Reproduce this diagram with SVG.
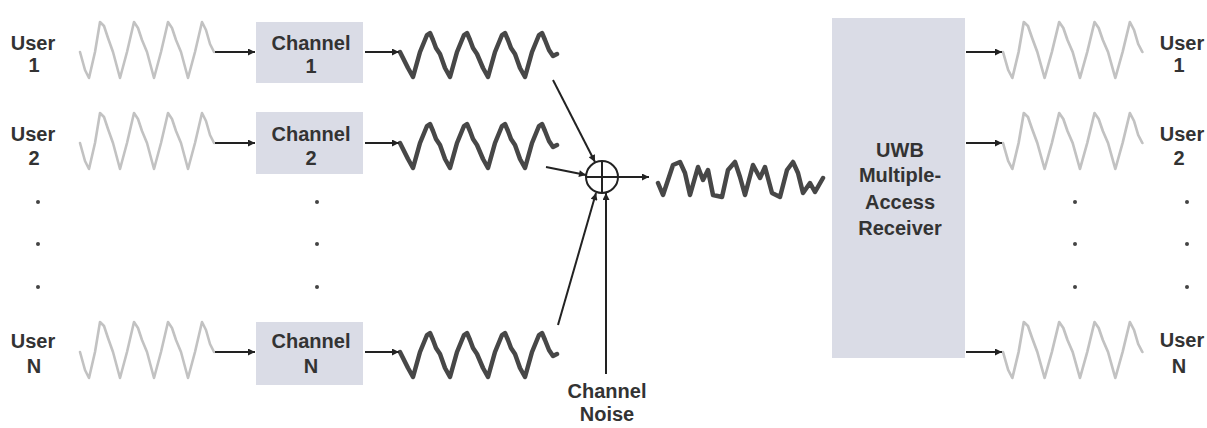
<svg xmlns="http://www.w3.org/2000/svg" width="1207" height="428" viewBox="0 0 1207 428">
<style>
.lbl{font-family:"Liberation Sans",Arial,sans-serif;font-size:20px;font-weight:bold;fill:#333;text-anchor:middle}
.box{fill:#dadce6}
.wl{fill:none;stroke:#c2c2c2;stroke-width:2.6;stroke-linejoin:round;stroke-linecap:round}
.wd{fill:none;stroke:#474747;stroke-width:4.5;stroke-linejoin:round;stroke-linecap:round}
.conn{stroke:#222;stroke-width:2;fill:none}
.dot{fill:#444}
</style>
<defs>
<marker id="ah" viewBox="0 0 10 10" refX="10" refY="5" markerWidth="9" markerHeight="7" markerUnits="userSpaceOnUse" orient="auto"><path d="M0,0 L10,5 L0,10 z" fill="#222"/></marker>
<path id="uw" class="wl" d="M0,0 L5,18 L9,26 L15,0 L20,-30 L24,-26 L28,-14 L33,0 L40,26 L47,0 L54,-30 L58,-24 L62,-12 L67,0 L74,26 L81,0 L88,-30 L92,-24 L96,-12 L101,0 L108,26 L115,0 L122,-30 L126,-22 L130,-8 L134,0"/>
<path id="cw" class="wd" d="M0,0 L8,16 L13,25 L20,0 L27,-17 L30,-19 L33,-12 L36,-4 L40,2 L45,16 L50,25 L57,0 L64,-17 L67,-19 L70,-12 L73,-4 L77,2 L83,16 L88,25 L95,0 L102,-17 L105,-19 L108,-12 L111,-4 L115,2 L120,16 L125,25 L132,0 L139,-17 L142,-19 L145,-12 L149,-2 L153,4 L157,2"/>
</defs>

<g id="user1-in">
<text class="lbl" x="33" y="50">User</text><text class="lbl" x="34" y="72">1</text>
<use href="#uw" transform="translate(80,52)"/>
</g>
<g id="user2-in">
<text class="lbl" x="33" y="141">User</text><text class="lbl" x="34" y="165">2</text>
<use href="#uw" transform="translate(80,143)"/>
</g>
<g id="userN-in">
<text class="lbl" x="33" y="348">User</text><text class="lbl" x="34" y="373">N</text>
<use href="#uw" transform="translate(80,352)"/>
</g>
<g id="dots-left">
<circle class="dot" cx="38" cy="202" r="2"/><circle class="dot" cx="38" cy="244" r="2"/><circle class="dot" cx="38" cy="287" r="2"/>
<circle class="dot" cx="317" cy="202" r="2"/><circle class="dot" cx="317" cy="244" r="2"/><circle class="dot" cx="317" cy="287" r="2"/>
</g>

<g id="channel1">
<rect class="box" x="256" y="22" width="107" height="61"/>
<text class="lbl" x="311" y="50">Channel</text><text class="lbl" x="311" y="73">1</text>
</g>
<g id="channel2">
<rect class="box" x="256" y="112" width="107" height="62"/>
<text class="lbl" x="311" y="141">Channel</text><text class="lbl" x="311" y="165">2</text>
</g>
<g id="channelN">
<rect class="box" x="256" y="322" width="107" height="63"/>
<text class="lbl" x="311" y="348">Channel</text><text class="lbl" x="311" y="373">N</text>
</g>

<g id="channel-outputs">
<use href="#cw" transform="translate(400,52)"/>
<use href="#cw" transform="translate(400,143)"/>
<use href="#cw" transform="translate(400,352)"/>
</g>

<g id="summer">
<circle cx="602" cy="177" r="16" fill="#fff" stroke="#222" stroke-width="2"/>
<line x1="586" y1="177" x2="618" y2="177" stroke="#222" stroke-width="2"/>
<line x1="602" y1="161" x2="602" y2="193" stroke="#222" stroke-width="2"/>
</g>

<g id="combined-wave">
<path class="wd" d="M658,183 L663,195 L673,165 L680,162 L685,173 L690,195 L698,167 L703,180 L708,170 L713,195 L722,197 L728,170 L735,162 L740,177 L745,195 L753,165 L760,178 L765,167 L772,193 L780,197 L787,170 L793,162 L798,173 L803,193 L810,183 L815,192 L823,178"/>
</g>

<g id="receiver">
<rect class="box" x="832" y="18" width="133" height="340"/>
<text class="lbl" x="900" y="157">UWB</text>
<text class="lbl" x="900" y="182">Multiple-</text>
<text class="lbl" x="900" y="209">Access</text>
<text class="lbl" x="900" y="235">Receiver</text>
</g>

<g id="user1-out">
<use href="#uw" transform="translate(1003,52) scale(1.04,1)"/>
<text class="lbl" x="1182" y="50">User</text><text class="lbl" x="1179" y="72">1</text>
</g>
<g id="user2-out">
<use href="#uw" transform="translate(1003,143) scale(1.04,1)"/>
<text class="lbl" x="1182" y="141">User</text><text class="lbl" x="1179" y="165">2</text>
</g>
<g id="userN-out">
<use href="#uw" transform="translate(1003,352) scale(1.04,1)"/>
<text class="lbl" x="1182" y="347">User</text><text class="lbl" x="1179" y="373">N</text>
</g>
<g id="dots-right">
<circle class="dot" cx="1075" cy="202" r="2"/><circle class="dot" cx="1075" cy="244" r="2"/><circle class="dot" cx="1075" cy="287" r="2"/>
<circle class="dot" cx="1187" cy="202" r="2"/><circle class="dot" cx="1187" cy="244" r="2"/><circle class="dot" cx="1187" cy="287" r="2"/>
</g>

<g id="noise">
<text class="lbl" x="607" y="398">Channel</text>
<text class="lbl" x="607" y="421">Noise</text>
</g>

<g id="connectors">
<line class="conn" x1="215" y1="52" x2="255" y2="52" marker-end="url(#ah)"/>
<line class="conn" x1="215" y1="143" x2="255" y2="143" marker-end="url(#ah)"/>
<line class="conn" x1="215" y1="352" x2="255" y2="352" marker-end="url(#ah)"/>
<line class="conn" x1="365" y1="52" x2="399" y2="52" marker-end="url(#ah)"/>
<line class="conn" x1="365" y1="143" x2="399" y2="143" marker-end="url(#ah)"/>
<line class="conn" x1="365" y1="352" x2="399" y2="352" marker-end="url(#ah)"/>
<line class="conn" x1="553" y1="80" x2="595" y2="162" marker-end="url(#ah)"/>
<line class="conn" x1="546" y1="167" x2="586" y2="175" marker-end="url(#ah)"/>
<line class="conn" x1="558" y1="325" x2="596" y2="193" marker-end="url(#ah)"/>
<line class="conn" x1="606" y1="374" x2="606" y2="193" marker-end="url(#ah)"/>
<line class="conn" x1="618" y1="177" x2="649" y2="177" marker-end="url(#ah)"/>
<line class="conn" x1="966" y1="52" x2="1002" y2="52" marker-end="url(#ah)"/>
<line class="conn" x1="966" y1="143" x2="1002" y2="143" marker-end="url(#ah)"/>
<line class="conn" x1="966" y1="352" x2="1002" y2="352" marker-end="url(#ah)"/>
</g>
</svg>
